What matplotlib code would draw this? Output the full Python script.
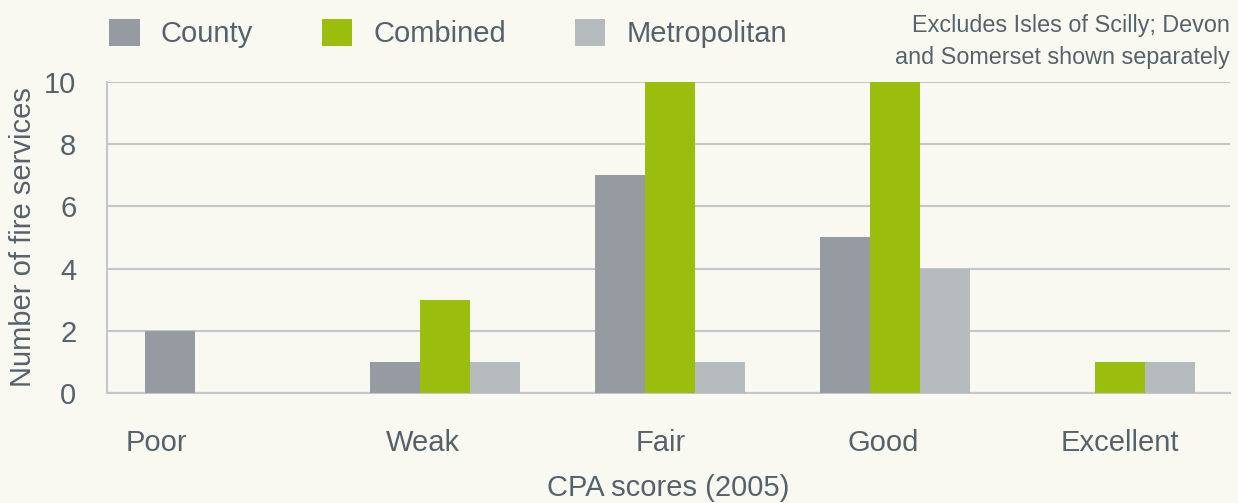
import matplotlib
matplotlib.use("Agg")
import matplotlib.pyplot as plt
from matplotlib.patches import Patch
import numpy as np

categories = ["Poor", "Weak", "Fair", "Good", "Excellent"]
series_names = ["County", "Combined", "Metropolitan"]
county = [2, 1, 7, 5, 0]
combined = [0, 3, 10, 10, 1]
metropolitan = [0, 1, 1, 4, 1]
yticks = [0, 2, 4, 6, 8, 10]

colors = ["#969aa1", "#9bbd0e", "#b5babd"]
bg = "#f9f9f2"
txt = "#56626b"
grid = "#c3c7c9"

plt.rcParams['font.family'] = ['Liberation Sans', 'DejaVu Sans']

fig = plt.figure(figsize=(12.38, 5.03), dpi=100, facecolor=bg)
ax = fig.add_axes([0.0864, 0.2187, 0.9071, 0.6183])
ax.set_facecolor(bg)

x = np.arange(len(categories))
w = 0.222
for i, (vals, c, n) in enumerate(zip([county, combined, metropolitan], colors, series_names)):
    ax.bar(x + (i - 1) * w, vals, width=w, color=c, label=n, zorder=3, linewidth=0)

ax.set_xlim(-0.502, 4.489)
ax.set_ylim(0, 10)
ax.set_yticks(yticks)
ax.set_yticklabels([str(t) for t in yticks], fontsize=21, color=txt)
ax.yaxis.grid(True, color=grid, linewidth=1.5, zorder=0)
ax.tick_params(axis='y', length=0, pad=22)
ax.tick_params(axis='x', length=0, pad=26)
label_x = [-0.28, 0.90, 1.96, 2.95, 4.0]
ax.set_xticks(label_x)
ax.set_xticklabels(categories, fontsize=21, color=txt)
for s in ["top", "right"]:
    ax.spines[s].set_visible(False)
for s in ["left", "bottom"]:
    ax.spines[s].set_color(grid)
    ax.spines[s].set_linewidth(1.5)

ax.set_ylabel("Number of fire services", fontsize=21, color=txt, labelpad=5)
ax.set_xlabel("CPA scores (2005)", fontsize=21, color=txt, labelpad=12)

handles = [Patch(facecolor=c, edgecolor='none') for c in colors]
leg = fig.legend(handles, series_names, loc="upper left", bbox_to_anchor=(0.067, 1.015),
                 ncol=3, frameon=False, fontsize=21, handlelength=1.05, handleheight=1.05,
                 handletextpad=0.72, columnspacing=2.35, labelcolor=txt)

fig.text(0.9935, 0.972, "Excludes Isles of Scilly; Devon\nand Somerset shown separately",
         ha="right", va="top", fontsize=16.8, color=txt, linespacing=1.48)

fig.savefig("out.png", dpi=100, facecolor=bg)
